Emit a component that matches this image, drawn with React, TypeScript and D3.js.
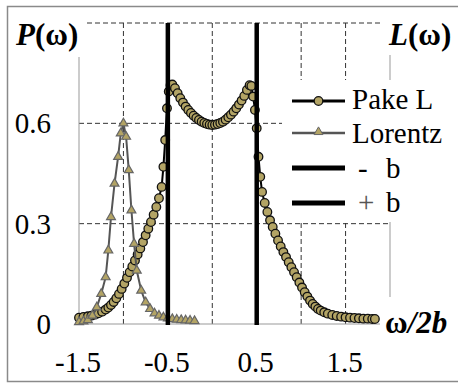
import React from "react";
import * as d3 from "d3";

// Pake doublet broadened by a Lorentzian (circles)
const pakeOmega = [
  -1.5, -1.45, -1.4, -1.36, -1.32, -1.28, -1.24, -1.2, -1.17, -1.14, -1.11, -1.08, -1.05, -1.02,
  -0.99, -0.96, -0.93, -0.9, -0.87, -0.84, -0.81, -0.78, -0.75, -0.72, -0.69, -0.66, -0.63, -0.6,
  -0.57, -0.55, -0.53, -0.51, -0.49, -0.47, -0.45, -0.42, -0.39, -0.36, -0.33, -0.3, -0.27, -0.24,
  -0.21, -0.18, -0.15, -0.12, -0.09, -0.06, -0.03, 0,
  0.03, 0.06, 0.09, 0.12, 0.15, 0.18, 0.21, 0.24, 0.27, 0.3, 0.33, 0.36, 0.39, 0.42, 0.44, 0.46,
  0.48, 0.5, 0.52, 0.54, 0.56, 0.59, 0.62, 0.65, 0.68, 0.71, 0.74, 0.77, 0.8, 0.83, 0.86, 0.89,
  0.92, 0.95, 0.98, 1.01, 1.04, 1.07, 1.1, 1.13, 1.16, 1.19, 1.22, 1.26, 1.3, 1.35, 1.4, 1.45,
  1.5, 1.55, 1.6, 1.65, 1.7, 1.75, 1.8, 1.83,
];
const pakeValues = [
  0.019, 0.021, 0.023, 0.025, 0.028, 0.032, 0.037, 0.043, 0.049, 0.057, 0.066, 0.077, 0.09, 0.105,
  0.121, 0.138, 0.155, 0.172, 0.19, 0.208, 0.226, 0.245, 0.265, 0.285, 0.305, 0.327, 0.35, 0.376,
  0.41, 0.47, 0.55, 0.645, 0.695, 0.714, 0.716, 0.705, 0.69, 0.675, 0.662, 0.65, 0.64, 0.631,
  0.623, 0.616, 0.61, 0.605, 0.601, 0.598, 0.596, 0.595,
  0.596, 0.598, 0.601, 0.605, 0.611, 0.618, 0.626, 0.635, 0.645, 0.656, 0.668, 0.682, 0.7, 0.714,
  0.712, 0.68, 0.64, 0.585, 0.5, 0.44, 0.395, 0.362, 0.335, 0.31, 0.29, 0.27, 0.25, 0.232, 0.215,
  0.2, 0.185, 0.17, 0.155, 0.14, 0.124, 0.109, 0.095, 0.082, 0.07, 0.06, 0.052, 0.045, 0.04,
  0.035, 0.031, 0.027, 0.024, 0.022, 0.02, 0.019, 0.018, 0.017, 0.016, 0.016, 0.015, 0.015,
];

// single Lorentzian line (triangles)
const lorentzOmega = [
  -1.5, -1.45, -1.4, -1.35, -1.3, -1.25, -1.2, -1.17, -1.14, -1.1, -1.06, -1.03, -1.0, -0.97,
  -0.94, -0.91, -0.88, -0.85, -0.8, -0.75, -0.7, -0.65, -0.6, -0.55, -0.5, -0.45, -0.4, -0.35,
  -0.3, -0.25, -0.2,
];
const lorentzValues = [
  0.006, 0.008, 0.012, 0.025, 0.05, 0.09, 0.14, 0.22, 0.32, 0.42, 0.5, 0.57, 0.6, 0.56, 0.46,
  0.34, 0.24, 0.16, 0.1, 0.065, 0.045, 0.032, 0.025, 0.02, 0.017, 0.015, 0.013, 0.012, 0.011,
  0.01, 0.009,
];

// splitting lines at -b and +b
const bLines = [-0.5, 0.5];

const yTicks = [0, 0.3, 0.6];
const yTickLabels = ["0", "0.3", "0.6"];
const xTicks = [-1.5, -0.5, 0.5, 1.5];
const xTickLabels = ["-1.5", "-0.5", "0.5", "1.5"];
const xGrid = [-1, 0, 1, 1.5];
const yGrid = [0.3, 0.6, 0.9];

const OLIVE = "#b3a465";
const FONT = "'Times New Roman', Times, Tinos, 'Liberation Serif', 'Noto Serif', 'DejaVu Serif', FreeSerif, serif";

export default function App() {
  const W = 458;
  const H = 383;
  const x = d3.scaleLinear().domain([-1.5, 2.0]).range([79, 390]);
  const y = d3.scaleLinear().domain([0, 0.9]).range([324, 23]);

  const pake = pakeOmega.map((w, i) => [w, pakeValues[i]] as [number, number]);
  const lor = lorentzOmega.map((w, i) => [w, lorentzValues[i]] as [number, number]);
  const line = d3
    .line<[number, number]>()
    .x((d) => x(d[0]))
    .y((d) => y(d[1]));
  const tri = d3.symbol().type(d3.symbolTriangle).size(34)();

  const legendX0 = 292;
  const legendX1 = 345;
  const txt = { fontFamily: FONT };

  return (
    <svg
      width={W}
      height={H}
      style={{ position: "absolute", left: 0, top: 0, background: "#fff", fontFamily: FONT }}
    >
      <rect x={7.5} y={6.5} width={470} height={375} fill="#fff" stroke="#8a8a8a" strokeWidth={1.5} />

      {/* grid */}
      {yGrid.map((v) => (
        <line key={"gy" + v} x1={x(-1.5)} x2={x(2)} y1={y(v)} y2={y(v)} stroke="#333" strokeDasharray="5,3" />
      ))}
      {xGrid.map((v) => (
        <line key={"gx" + v} x1={x(v)} x2={x(v)} y1={y(0.9)} y2={y(0)} stroke="#333" strokeDasharray="5,3" />
      ))}

      {/* axes */}
      <line x1={x(-1.5)} x2={x(-1.5)} y1={y(0.9)} y2={y(0)} stroke="#999" />
      <line x1={x(2)} x2={x(2)} y1={y(0.9)} y2={y(0)} stroke="#999" />
      <line x1={x(-1.5)} x2={x(2)} y1={y(0)} y2={y(0)} stroke="#999" />

      {/* label / legend backgrounds */}
      <rect x={10} y={9} width={76} height={48} fill="#fff" />
      <rect x={382} y={9} width={76} height={46} fill="#fff" />
      <rect x={380} y={297} width={78} height={46} fill="#fff" />
      <rect x={282} y={80} width={176} height={142} fill="#fff" />

      {/* Pake series */}
      <path d={line(pake) || ""} fill="none" stroke="#000" strokeWidth={2} />
      {pake.map((d, i) => (
        <circle key={"p" + i} cx={x(d[0])} cy={y(d[1])} r={4.3} fill={OLIVE} stroke="#111" strokeWidth={1.3} />
      ))}

      {/* Lorentz series */}
      <path d={line(lor) || ""} fill="none" stroke="#555" strokeWidth={2} />
      {lor.map((d, i) => (
        <path key={"l" + i} d={tri || ""} transform={`translate(${x(d[0])},${y(d[1])})`} fill={OLIVE} stroke="#666" strokeWidth={1.2} />
      ))}

      {/* -b, +b */}
      {bLines.map((v) => (
        <line key={"b" + v} x1={x(v)} x2={x(v)} y1={y(0.9)} y2={y(0) + 1} stroke="#000" strokeWidth={4.5} />
      ))}

      {/* tick labels */}
      {yTicks.map((v, i) => (
        <text key={"yt" + v} style={txt} x={51} y={y(v) + 10} textAnchor="end" fontSize={29}>
          {yTickLabels[i]}
        </text>
      ))}
      {xTicks.map((v, i) => (
        <text key={"xt" + v} style={txt} x={x(v) - 1} y={372} textAnchor="middle" fontSize={29}>
          {xTickLabels[i]}
        </text>
      ))}

      {/* axis titles */}
      <text style={txt} x={16} y={45} fontSize={31} fontWeight="bold">
        <tspan fontStyle="italic">P</tspan>
        <tspan>(ω)</tspan>
      </text>
      <text style={txt} x={389} y={45} fontSize={31} fontWeight="bold">
        <tspan fontStyle="italic">L</tspan>
        <tspan>(ω)</tspan>
      </text>
      <text style={txt} x={385} y={333} fontSize={31} fontWeight="bold">
        <tspan>ω</tspan>
        <tspan fontStyle="italic">/2b</tspan>
      </text>

      {/* legend */}
      <line x1={legendX0} x2={legendX1} y1={101} y2={101} stroke="#000" strokeWidth={3} />
      <circle cx={(legendX0 + legendX1) / 2} cy={101} r={4.3} fill={OLIVE} stroke="#111" strokeWidth={1.3} />
      <text style={txt} x={352} y={109} fontSize={29}>Pake L</text>

      <line x1={legendX0} x2={legendX1} y1={133} y2={133} stroke="#555" strokeWidth={2.5} />
      <path d={tri || ""} transform={`translate(${(legendX0 + legendX1) / 2},${132})`} fill={OLIVE} stroke="#666" strokeWidth={1} />
      <text style={txt} x={352} y={143} fontSize={29}>Lorentz</text>

      <line x1={legendX0} x2={legendX1} y1={168} y2={168} stroke="#000" strokeWidth={5} />
      <text style={txt} y={178} fontSize={29}>
        <tspan x={358}>-</tspan>
        <tspan x={386}>b</tspan>
      </text>

      <line x1={legendX0} x2={legendX1} y1={203} y2={203} stroke="#000" strokeWidth={5} />
      <text style={txt} y={212} fontSize={29}>
        <tspan x={358} fill="#555">+</tspan>
        <tspan x={386}>b</tspan>
      </text>
    </svg>
  );
}
